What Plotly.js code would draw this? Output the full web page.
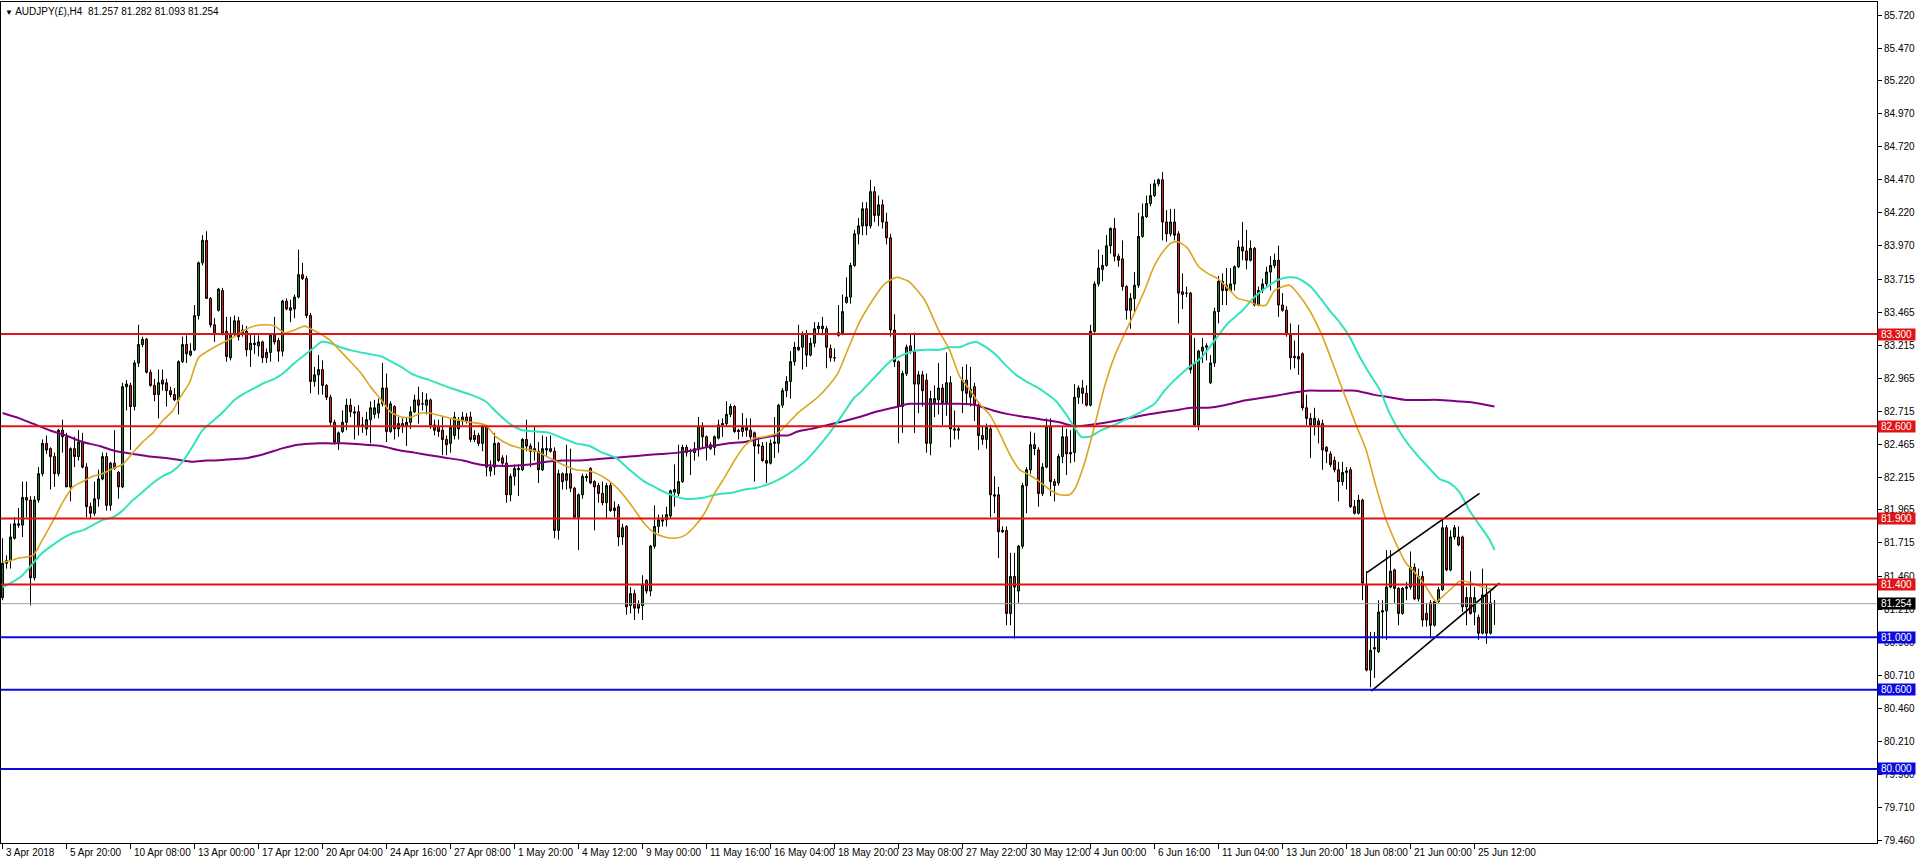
<!DOCTYPE html>
<html><head><meta charset="utf-8">
<script src="https://cdn.plot.ly/plotly-3.0.1.min.js"></script>
<style>html,body{margin:0;padding:0;background:#fff;overflow:hidden}#chart{width:1916px;height:864px}</style>
</head><body><div id="chart"></div>
<script>
const symbolTitle = 'AUDJPY(£),H4  81.257 81.282 81.093 81.254';

const openPrices = [
81.30,81.56,81.58,81.75,81.86,81.85,82.06,82.04,81.45,82.04,
82.24,82.47,82.43,82.37,82.24,82.57,82.52,82.14,82.43,82.37,
82.48,82.29,81.99,81.94,82.05,82.20,82.37,82.00,82.32,82.25,
82.14,82.90,82.91,82.75,83.08,83.22,83.26,83.01,82.91,82.84,
82.95,82.93,82.87,82.84,82.80,83.09,83.22,83.14,83.18,83.44,
83.84,84.01,83.57,83.37,83.48,83.63,83.32,83.12,83.30,83.40,
83.30,83.32,83.18,83.23,83.21,83.24,83.12,83.16,83.29,83.25,
83.17,83.55,83.50,83.49,83.58,83.75,83.72,83.44,82.94,82.99,
83.03,82.91,82.82,82.63,82.48,82.56,82.63,82.76,82.71,82.71,
82.60,82.58,82.65,82.69,82.70,82.77,82.89,82.56,82.75,82.58,
82.62,82.60,82.63,82.71,82.80,82.77,82.76,82.80,82.61,82.60,
82.57,82.50,82.47,82.53,82.58,82.64,82.67,82.67,82.53,82.53,
82.47,82.60,82.26,82.29,82.47,82.36,82.32,82.08,82.22,82.27,
82.27,82.50,82.45,82.43,82.41,82.27,82.42,82.43,82.41,81.81,
82.24,82.19,82.24,82.13,81.91,82.08,82.22,82.28,82.18,82.15,
82.09,82.02,82.15,81.98,81.99,81.76,81.84,81.24,81.33,81.25,
81.24,81.43,81.35,81.69,81.84,81.88,81.89,81.92,82.10,82.09,
82.18,82.44,82.41,82.40,82.43,82.60,82.52,82.46,82.44,82.51,
82.61,82.62,82.69,82.75,82.57,82.56,82.59,82.57,82.55,82.46,
82.45,82.34,82.32,82.47,82.47,82.76,82.87,82.94,83.09,83.18,
83.20,83.30,83.14,83.23,83.34,83.36,83.34,83.19,83.12,83.29,
83.31,83.54,83.58,83.82,84.06,84.12,84.25,84.12,84.38,84.20,
84.28,84.15,84.03,83.33,83.09,82.75,83.00,83.21,83.17,82.92,
82.99,82.95,82.47,82.78,82.80,82.89,82.78,82.93,82.57,82.58,
82.87,82.95,82.82,82.90,82.76,82.53,82.50,82.58,82.08,82.08,
81.81,81.81,81.18,81.46,81.35,81.69,82.15,82.27,82.46,82.42,
82.09,82.29,82.60,82.18,82.17,82.37,82.52,82.39,82.40,82.82,
82.89,82.85,82.76,83.32,83.68,83.79,83.82,83.97,84.10,83.89,
83.87,83.66,83.48,83.57,83.67,84.04,84.19,84.29,84.35,84.44,
84.47,84.15,84.06,84.15,84.06,83.62,83.61,83.61,83.08,82.61,
83.17,83.20,82.93,83.08,83.47,83.70,83.67,83.63,83.68,83.81,
83.96,83.93,83.86,83.95,83.52,83.63,83.68,83.77,83.82,83.86,
83.52,83.48,83.29,83.12,83.11,83.15,82.74,82.66,82.61,82.64,
82.62,82.44,82.39,82.34,82.27,82.18,82.25,82.27,81.99,81.94,
82.04,81.39,80.75,80.91,80.89,81.19,81.20,81.38,81.51,81.37,
81.18,81.37,81.38,81.53,81.29,81.46,81.18,81.26,81.09,81.27,
81.36,81.83,81.51,81.76,81.76,81.76,81.23,81.30,81.19,81.15,
81.03,81.32,81.03,81.257];

const highPrices = [
81.75,81.62,81.86,81.91,81.98,82.18,82.18,82.07,82.07,82.29,
82.50,82.53,82.44,82.40,82.58,82.65,82.55,82.44,82.52,82.57,
82.55,82.32,82.02,82.18,82.27,82.40,82.40,82.33,82.57,82.26,
82.93,82.95,82.93,83.10,83.37,83.28,83.27,83.03,82.96,83.03,
83.03,82.96,82.90,82.89,83.10,83.28,83.29,83.23,83.52,83.85,
84.05,84.08,83.58,83.42,83.65,83.65,83.43,83.43,83.44,83.43,
83.37,83.36,83.30,83.29,83.29,83.25,83.19,83.30,83.43,83.27,
83.56,83.57,83.56,83.60,83.94,83.84,83.74,83.46,83.05,83.14,
83.10,82.92,82.84,82.65,82.56,82.72,82.81,82.81,82.75,82.76,
82.67,82.71,82.79,82.80,82.81,83.08,83.00,82.79,82.76,82.67,
82.66,82.67,82.75,82.84,82.90,82.86,82.85,82.81,82.65,82.65,
82.67,82.53,82.66,82.71,82.67,82.71,82.70,82.71,82.57,82.55,
82.62,82.61,82.34,82.55,82.48,82.38,82.38,82.24,82.31,82.31,
82.51,82.65,82.47,82.60,82.48,82.53,82.52,82.53,82.44,82.27,
82.25,82.46,82.43,82.14,82.09,82.24,82.24,82.29,82.19,82.17,
82.18,82.17,82.17,82.03,82.01,81.86,81.85,81.38,81.36,81.28,
81.47,81.44,81.70,82.00,81.93,81.93,81.99,82.12,82.31,82.46,
82.46,82.46,82.43,82.48,82.67,82.63,82.53,82.48,82.53,82.65,
82.66,82.79,82.77,82.76,82.58,82.70,82.66,82.66,82.56,82.50,
82.48,82.48,82.50,82.67,82.77,82.89,82.98,83.17,83.24,83.37,
83.32,83.33,83.27,83.39,83.39,83.43,83.36,83.22,83.19,83.52,
83.60,83.73,83.84,84.09,84.18,84.30,84.30,84.47,84.42,84.35,
84.32,84.22,84.06,83.45,83.10,83.02,83.22,83.30,83.31,83.02,
83.02,83.00,82.87,82.91,83.08,82.92,83.16,82.98,82.72,82.60,
83.05,83.07,83.05,82.93,82.78,82.60,82.62,82.61,82.22,82.14,
81.84,81.84,81.64,81.64,81.70,82.17,82.29,82.56,82.55,82.44,
82.32,82.66,82.66,82.20,82.39,82.60,82.58,82.57,82.92,82.91,
82.95,82.91,83.37,83.70,83.94,83.90,84.05,84.11,84.18,83.91,
84.01,83.67,83.61,83.77,84.22,84.29,84.35,84.44,84.47,84.48,
84.53,84.24,84.25,84.25,84.08,83.76,83.66,83.62,83.27,83.18,
83.27,83.23,83.14,83.50,83.74,83.76,83.80,83.80,83.82,84.01,
84.15,84.09,84.01,83.96,83.66,83.72,83.81,83.89,83.91,83.97,
83.61,83.51,83.38,83.25,83.37,83.16,82.84,82.70,82.74,82.66,
82.65,82.45,82.41,82.37,82.33,82.33,82.29,82.29,82.04,82.08,
82.05,81.50,81.04,81.04,81.28,81.28,81.66,81.66,81.52,81.38,
81.38,81.42,81.65,81.56,81.52,81.50,81.26,81.28,81.28,81.38,
81.90,81.85,81.81,81.85,81.84,81.77,81.38,81.50,81.38,81.17,
81.52,81.40,81.35,81.282];

const lowPrices = [
81.28,81.52,81.52,81.74,81.83,81.76,81.91,81.24,81.43,82.02,
82.22,82.39,82.12,82.14,82.22,82.40,82.14,82.03,82.29,82.34,
82.28,81.91,81.90,81.92,81.99,82.19,81.96,81.96,82.27,82.05,
82.13,82.72,82.42,82.72,83.05,83.20,83.00,82.90,82.79,82.66,
82.87,82.75,82.82,82.79,82.69,83.08,83.08,83.13,83.17,83.41,
83.82,83.57,83.35,83.24,83.47,83.29,83.09,83.10,83.28,83.25,
83.28,83.13,83.05,83.15,83.13,83.08,83.08,83.09,83.22,83.09,
83.13,83.48,83.39,83.42,83.57,83.71,83.42,82.85,82.90,82.84,
82.84,82.80,82.61,82.46,82.42,82.55,82.57,82.67,82.50,82.53,
82.55,82.53,82.47,82.66,82.66,82.75,82.48,82.55,82.50,82.52,
82.55,82.45,82.58,82.70,82.62,82.72,82.69,82.58,82.53,82.52,
82.38,82.38,82.40,82.50,82.50,82.61,82.62,82.48,82.48,82.45,
82.41,82.22,82.22,82.23,82.33,82.29,82.02,82.03,82.15,82.07,
82.26,82.41,82.29,82.34,82.17,82.26,82.37,82.40,81.75,81.74,
82.12,82.12,82.10,81.90,81.66,82.05,82.18,82.16,81.81,82.02,
82.00,81.90,81.95,81.91,81.69,81.70,81.17,81.18,81.13,81.18,
81.13,81.33,81.31,81.67,81.79,81.84,81.84,81.90,81.99,82.07,
82.17,82.37,82.23,82.34,82.37,82.43,82.34,82.42,82.38,82.50,
82.52,82.60,82.67,82.55,82.50,82.52,82.52,82.50,82.18,82.39,
82.33,82.17,82.31,82.36,82.40,82.74,82.82,82.81,83.06,83.17,
83.03,83.05,83.13,83.20,83.30,83.29,83.04,83.09,83.09,83.28,
83.29,83.53,83.53,83.81,83.98,84.05,84.05,84.10,84.15,84.12,
84.10,83.98,83.28,83.05,82.47,82.55,82.98,83.15,82.55,82.70,
82.75,82.40,82.38,82.67,82.69,82.61,82.68,82.44,82.50,82.50,
82.70,82.77,82.75,82.64,82.42,82.46,82.43,81.91,81.94,81.60,
81.79,81.09,81.09,80.99,81.26,81.67,81.94,82.24,82.38,81.99,
82.07,82.28,82.07,82.03,82.15,82.32,82.23,82.32,82.33,82.77,
82.77,82.75,82.75,83.31,83.66,83.70,83.81,83.91,83.85,83.81,
83.63,83.41,83.34,83.46,83.65,84.03,84.18,84.27,84.34,84.42,
84.01,84.00,84.04,84.01,83.38,83.49,83.58,83.00,82.60,82.57,
83.08,83.10,82.92,83.05,83.38,83.52,83.52,83.62,83.63,83.80,
83.86,83.79,83.85,83.51,83.51,83.61,83.66,83.63,83.80,83.43,
83.47,83.28,83.03,83.04,82.99,82.72,82.61,82.36,82.53,82.47,
82.27,82.32,82.29,82.25,82.03,82.15,82.12,81.98,81.93,81.93,
81.28,80.74,80.62,80.69,80.88,80.99,80.98,81.37,81.26,81.09,
81.17,81.28,81.36,81.28,81.27,81.08,81.08,80.99,81.08,81.26,
81.35,81.50,81.50,81.74,81.69,81.19,81.09,81.17,81.09,80.98,
81.02,80.95,81.02,81.093];

const closePrices = [
81.56,81.58,81.76,81.86,81.85,82.06,82.04,81.45,82.04,82.24,
82.47,82.42,82.37,82.24,82.57,82.52,82.14,82.43,82.37,82.48,
82.29,81.99,81.94,82.05,82.20,82.37,82.00,82.32,82.28,82.14,
82.90,82.92,82.75,83.08,83.22,83.26,83.01,82.91,82.84,82.93,
82.92,82.87,82.84,82.80,83.09,83.22,83.15,83.17,83.44,83.84,
84.01,83.57,83.37,83.30,83.64,83.30,83.13,83.30,83.40,83.28,
83.33,83.18,83.23,83.22,83.24,83.12,83.16,83.29,83.24,83.17,
83.55,83.49,83.48,83.58,83.75,83.72,83.44,82.94,82.99,83.03,
82.91,82.82,82.63,82.48,82.55,82.63,82.76,82.71,82.70,82.60,
82.61,82.65,82.74,82.74,82.77,82.89,82.56,82.77,82.58,82.62,
82.60,82.63,82.71,82.80,82.76,82.77,82.80,82.61,82.57,82.56,
82.50,82.46,82.59,82.67,82.64,82.67,82.64,82.50,82.50,82.47,
82.60,82.29,82.29,82.47,82.34,82.32,82.08,82.22,82.28,82.28,
82.50,82.45,82.41,82.41,82.27,82.43,82.43,82.41,81.81,82.24,
82.18,82.24,82.13,81.91,82.08,82.22,82.21,82.17,82.14,82.09,
82.02,82.15,81.96,81.96,81.76,81.83,81.23,81.33,81.22,81.22,
81.40,81.35,81.69,81.84,81.89,81.89,81.93,82.11,82.12,82.18,
82.44,82.40,82.41,82.43,82.60,82.52,82.45,82.43,82.52,82.61,
82.62,82.69,82.75,82.56,82.56,82.59,82.57,82.52,82.45,82.45,
82.34,82.32,82.47,82.48,82.76,82.87,82.94,83.09,83.20,83.20,
83.30,83.14,83.23,83.34,83.36,83.34,83.20,83.12,83.12,83.31,
83.47,83.58,83.82,84.06,84.12,84.25,84.12,84.38,84.20,84.28,
84.15,84.03,83.33,83.09,82.75,83.00,83.20,83.17,82.92,82.99,
82.87,82.47,82.81,82.81,82.89,82.78,82.93,82.58,82.58,82.57,
82.95,82.85,82.88,82.76,82.53,82.50,82.59,82.08,82.07,81.80,
81.80,81.18,81.46,81.38,81.69,82.15,82.27,82.46,82.43,82.09,
82.29,82.60,82.18,82.15,82.37,82.52,82.39,82.40,82.82,82.89,
82.85,82.76,83.32,83.68,83.80,83.82,83.97,84.10,83.89,83.86,
83.66,83.48,83.57,83.67,84.04,84.19,84.29,84.35,84.44,84.47,
84.15,84.06,84.15,84.05,83.61,83.60,83.61,83.03,82.61,83.17,
83.20,83.21,83.08,83.47,83.70,83.63,83.63,83.68,83.81,83.96,
83.93,83.86,83.95,83.52,83.63,83.68,83.77,83.82,83.86,83.52,
83.48,83.30,83.12,83.13,83.13,82.74,82.66,82.61,82.66,82.61,
82.42,82.41,82.31,82.27,82.18,82.25,82.26,81.99,81.94,82.04,
81.41,80.75,80.90,80.92,81.19,81.20,81.38,81.50,81.37,81.18,
81.37,81.38,81.53,81.29,81.46,81.13,81.13,81.09,81.27,81.36,
81.83,81.51,81.76,81.83,81.70,81.23,81.30,81.18,81.30,81.03,
81.32,81.03,81.26,81.254];

const timeLabels = ['3 Apr 2018','5 Apr 20:00','10 Apr 08:00','13 Apr 00:00','17 Apr 12:00','20 Apr 04:00','24 Apr 16:00','27 Apr 08:00','1 May 20:00','4 May 12:00','9 May 00:00','11 May 16:00','16 May 04:00','18 May 20:00','23 May 08:00','27 May 22:00','30 May 12:00','4 Jun 00:00','6 Jun 16:00','11 Jun 04:00','13 Jun 20:00','18 Jun 08:00','21 Jun 00:00','25 Jun 12:00'];
const timeLabelBars = [0,16,32,48,64,80,96,112,128,144,160,176,192,208,224,240,256,272,288,304,320,336,352,368];

const priceTickLabels = ['85.720','85.470','85.220','84.970','84.720','84.470','84.220','83.970','83.715','83.465','83.215','82.965','82.715','82.465','82.215','81.965','81.715','81.460','81.210','80.960','80.710','80.460','80.210','79.960','79.710','79.460'];

const resistanceLevels = [83.300, 82.600, 81.900, 81.400];
const supportLevels = [81.000, 80.600, 80.000];
const lastPrice = 81.254;

const maFastBars = [0,2,4,7.6,10,12.6,15,17.6,20,22.6,25,27.6,30,32.6,35,37.6,40,42.6,44,46.75,49,53,55.5,58,60.5,63,65.5,68,70.5,73,75.5,77,79.5,82,84.5,87,89.7,92,94.7,97,99.7,102.2,104.7,106.75,112,117,120.75,123.4,126.75,130,133.4,136.75,140,143.4,146.75,150,153.4,156.75,160.5,163,165.5,168,170.5,173,175.5,178,180.5,183,185.5,188,190.5,193.8,196.3,198.8,201.3,203.8,206.3,208.8,211.3,214.25,217.6,220.5,223.5,226.5,230.5,234,236.75,239.25,241.75,244.25,246.75,249.25,251.75,254.25,256.75,259.25,261.75,264.25,266.75,268,270.5,273,275.5,278,280.5,283,285.5,288,290.5,292.2,293.8,296.3,298.8,301.3,303.8,306.3,308.8,311.3,313.8,315.9,318,321.75,324,326.75,330,334.25,338.4,340.9,343.4,345.9,348.4,350.9,353.4,355.9,358.4,360.1,362.6,364.6,367.1,370,372.9];
const maFastValues = [81.57,81.58,81.60,81.62,81.74,81.88,82.02,82.14,82.18,82.22,82.24,82.28,82.31,82.40,82.48,82.55,82.64,82.72,82.80,82.93,83.12,83.20,83.24,83.28,83.33,83.36,83.37,83.36,83.31,83.33,83.36,83.34,83.30,83.25,83.17,83.09,83.00,82.90,82.80,82.71,82.67,82.67,82.70,82.70,82.66,82.63,82.61,82.52,82.46,82.43,82.41,82.36,82.31,82.27,82.26,82.22,82.14,82.02,81.86,81.79,81.76,81.75,81.77,81.84,81.94,82.09,82.21,82.34,82.45,82.51,82.52,82.55,82.62,82.70,82.76,82.82,82.90,83.00,83.18,83.39,83.56,83.68,83.73,83.70,83.56,83.33,83.18,82.98,82.88,82.77,82.69,82.55,82.39,82.27,82.23,82.18,82.12,82.08,82.08,82.12,82.32,82.60,82.90,83.13,83.30,83.46,83.63,83.82,83.94,83.99,84.00,83.95,83.82,83.76,83.72,83.65,83.57,83.55,83.52,83.52,83.63,83.67,83.60,83.48,83.28,82.94,82.61,82.42,82.14,81.89,81.71,81.56,81.48,81.38,81.27,81.31,81.38,81.43,81.41,81.38,81.36];

const maMidBars = [0,2.6,5,7.6,10,12.6,15,17.6,20,22.6,25,27.6,30,32.6,35,37.6,40,42.6,45,47.6,50,53,55.5,58,60.5,63,65.5,68,70.5,73,75.5,78,79.7,82,84.5,88,91.3,94.7,97.2,99.7,102.2,104.7,106.75,112,117,120.75,123.4,126.75,130,133.4,136.75,140,143.4,146.75,150,153.4,156.75,160.5,163,165.5,168,170.5,173,175.5,178,180.5,183,185.5,188,190.5,193,195.5,198,200.5,203,205.5,208,210.5,213,214.25,216.75,219.25,222.2,225,227.6,230.9,234.25,236.75,239.25,241.75,243.4,245.9,248.4,250.9,253.4,255.9,258.4,260.9,263.4,265.9,268,269.7,271.75,274.7,278,281.3,284.7,288,290.5,293,296.3,299.7,303,306.3,309.7,313,316.3,318.8,321.75,324,327,329.5,331.75,334.25,336.75,339.25,341.75,344.25,346.75,350.1,353.4,356.75,359.25,361.75,364.25,366.75,369.25,371.75,373];
const maMidValues = [81.38,81.42,81.47,81.56,81.64,81.70,81.75,81.79,81.81,81.85,81.89,81.91,81.96,82.04,82.10,82.17,82.22,82.26,82.33,82.45,82.57,82.65,82.72,82.80,82.85,82.89,82.93,82.96,83.01,83.08,83.14,83.20,83.24,83.23,83.20,83.17,83.15,83.13,83.09,83.05,83.00,82.97,82.95,82.89,82.84,82.79,82.71,82.62,82.57,82.56,82.55,82.51,82.47,82.45,82.40,82.36,82.27,82.18,82.14,82.10,82.07,82.05,82.05,82.06,82.08,82.09,82.10,82.12,82.13,82.15,82.18,82.22,82.27,82.33,82.41,82.50,82.60,82.71,82.82,82.85,82.93,83.01,83.10,83.14,83.17,83.18,83.18,83.20,83.20,83.23,83.24,83.20,83.14,83.06,82.99,82.94,82.90,82.85,82.79,82.69,82.59,82.52,82.52,82.57,82.61,82.66,82.71,82.77,82.87,82.95,83.04,83.12,83.25,83.38,83.47,83.58,83.66,83.71,83.73,83.72,83.66,83.57,83.48,83.39,83.28,83.13,83.00,82.88,82.70,82.52,82.39,82.28,82.20,82.17,82.10,81.96,81.85,81.74,81.66];

const maSlowBars = [0,4.25,7.6,11.75,15.9,20,24.25,28.4,32.6,36.75,40.9,45,47.6,50.9,53,57.2,61.3,65.5,69.7,73.8,78,82.2,86.3,90.5,94.7,98.8,103,106.75,111,115.1,119.25,123.4,127.6,131.75,135.9,140.1,144.25,148.4,152.6,156.75,160.5,164.7,168.8,173,177.2,181.3,185.5,189.7,193.8,196.3,198.8,202.2,206.3,210.5,214.25,218.4,222.6,226.75,230.9,235.1,239.25,243.4,247.6,251.75,255.9,260.1,264.25,268,276.3,284.7,293,297.2,301.3,305.5,309.7,313.8,318,321.75,326,330,334.25,338.4,342.6,346.75,350.9,355.1,359.25,363.4,367.6,373];
const maSlowValues = [82.70,82.66,82.62,82.57,82.53,82.48,82.45,82.41,82.39,82.37,82.36,82.34,82.33,82.34,82.34,82.35,82.36,82.39,82.43,82.46,82.47,82.47,82.47,82.46,82.45,82.42,82.40,82.38,82.36,82.34,82.31,82.30,82.30,82.31,82.33,82.34,82.34,82.35,82.36,82.37,82.38,82.39,82.40,82.42,82.45,82.47,82.48,82.51,82.53,82.53,82.56,82.58,82.61,82.64,82.67,82.71,82.74,82.77,82.77,82.77,82.77,82.76,82.72,82.69,82.67,82.65,82.63,82.60,82.63,82.68,82.72,82.74,82.74,82.76,82.79,82.81,82.83,82.85,82.87,82.87,82.87,82.87,82.84,82.82,82.80,82.80,82.80,82.79,82.78,82.75];

const channelUpperBars = [341.1, 369.25];
const channelUpperPrices = [81.49, 82.09];
const channelLowerBars = [342.2, 374.25];
const channelLowerPrices = [80.59, 81.41];

const FONT = 'Liberation Sans, Arial, sans-serif';
const RED = '#e01414', BLUE = '#0a0ae0';
const bars = openPrices.map((_, i) => i);

const traces = [
  {type:'candlestick', x:bars, open:openPrices, high:highPrices, low:lowPrices, close:closePrices,
   increasing:{line:{color:'#000', width:1}, fillcolor:'#1d7a1d'},
   decreasing:{line:{color:'#000', width:1}, fillcolor:'#d01c1c'},
   whiskerwidth:0, hoverinfo:'skip'},
  {type:'scatter', mode:'lines', x:maSlowBars, y:maSlowValues, line:{color:'#800080', width:2, shape:'spline', smoothing:0.6}, hoverinfo:'skip'},
  {type:'scatter', mode:'lines', x:maMidBars, y:maMidValues, line:{color:'#33e3bd', width:2, shape:'spline', smoothing:0.6}, hoverinfo:'skip'},
  {type:'scatter', mode:'lines', x:maFastBars, y:maFastValues, line:{color:'#daa520', width:1.6, shape:'spline', smoothing:0.6}, hoverinfo:'skip'},
  {type:'scatter', mode:'lines', x:channelUpperBars, y:channelUpperPrices, line:{color:'#000', width:1.6}, hoverinfo:'skip'},
  {type:'scatter', mode:'lines', x:channelLowerBars, y:channelLowerPrices, line:{color:'#000', width:1.6}, hoverinfo:'skip'}
];

const shapes = [];
shapes.push({type:'line', xref:'paper', x0:0, x1:1, yref:'y', y0:lastPrice, y1:lastPrice, line:{color:'#a0a0a0', width:1}, layer:'above'});
resistanceLevels.forEach(v => shapes.push({type:'line', xref:'paper', x0:0, x1:1, yref:'y', y0:v, y1:v, line:{color:RED, width:2}, layer:'above'}));
supportLevels.forEach(v => shapes.push({type:'line', xref:'paper', x0:0, x1:1, yref:'y', y0:v, y1:v, line:{color:BLUE, width:2}, layer:'above'}));

const annotations = [];
annotations.push({xref:'paper', yref:'paper', x:0, y:1, xanchor:'left', yanchor:'top', xshift:2, yshift:-2,
  text:'<span style="font-size:8px">▼</span> ' + symbolTitle, showarrow:false, font:{family:FONT, size:10, color:'#000'}});
timeLabels.forEach((t, k) => annotations.push({xref:'x', yref:'paper', x:timeLabelBars[k], y:0, xanchor:'left', yanchor:'top',
  xshift:1, yshift:-2, text:t, showarrow:false, font:{family:FONT, size:10, color:'#000'}}));
function priceTag(v, bg) {
  return {xref:'paper', yref:'y', x:1, y:v, xanchor:'left', yanchor:'middle', xshift:0, text:v.toFixed(3),
    showarrow:false, bgcolor:bg, borderpad:0, width:37, height:11, align:'center', font:{family:FONT, size:10, color:'#fff'}};
}
resistanceLevels.forEach(v => annotations.push(priceTag(v, RED)));
supportLevels.forEach(v => annotations.push(priceTag(v, BLUE)));
annotations.push(priceTag(lastPrice, '#000'));

const layout = {
  width:1916, height:864,
  margin:{l:1, r:39, t:2, b:21, pad:0},
  paper_bgcolor:'#fff', plot_bgcolor:'#fff',
  showlegend:false, hovermode:false,
  boxgap:0.5, boxgroupgap:0,
  xaxis:{range:[-0.375, 468.625], showgrid:false, zeroline:false, showline:true, linecolor:'#000', linewidth:1, mirror:true,
    ticks:'outside', ticklen:5, tickcolor:'#000', tickwidth:1, tickvals:timeLabelBars, showticklabels:false,
    rangeslider:{visible:false}, fixedrange:true},
  yaxis:{side:'right', range:[79.438, 85.819], showgrid:false, zeroline:false, showline:true, linecolor:'#000', linewidth:1, mirror:true,
    ticks:'outside', ticklen:4, tickcolor:'#000', tickwidth:1, tickvals:priceTickLabels.map(Number), ticktext:priceTickLabels,
    tickfont:{family:FONT, size:10, color:'#000'}, fixedrange:true},
  shapes:shapes, annotations:annotations
};

Plotly.newPlot('chart', traces, layout, {staticPlot:true, displayModeBar:false});
</script>
</body></html>
